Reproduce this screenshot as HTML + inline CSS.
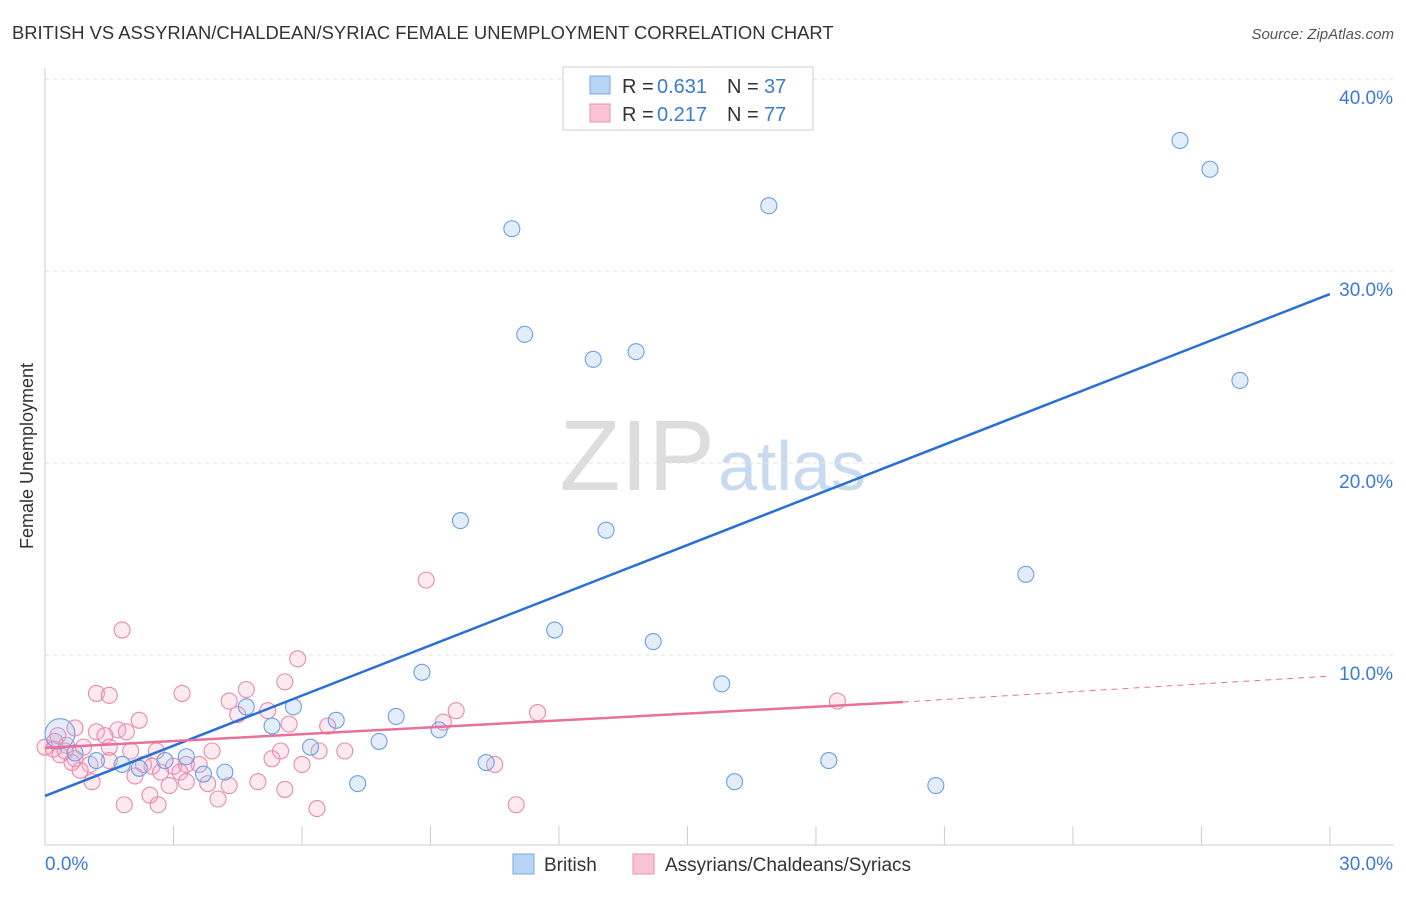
<!DOCTYPE html>
<html><head><meta charset="utf-8"><style>
body{margin:0;background:#fff;font-family:"Liberation Sans",sans-serif}
svg text{font-family:"Liberation Sans",sans-serif}
</style></head><body>
<svg id="c" width="1406" height="892">
<text x="12" y="39" font-size="18.4" fill="#333">BRITISH VS ASSYRIAN/CHALDEAN/SYRIAC FEMALE UNEMPLOYMENT CORRELATION CHART</text>
<text x="1394" y="39" font-size="15" fill="#555" font-style="italic" text-anchor="end">Source: ZipAtlas.com</text>
<text x="33" y="456" font-size="18" fill="#333" text-anchor="middle" transform="rotate(-90 33 456)">Female Unemployment</text>
<text x="715" y="490" font-size="100" fill="#ddd" text-anchor="end" font-family="Liberation Serif">ZIP</text>
<text x="718" y="490" font-size="70" fill="#c8daf0">atlas</text>
<g id="grid"></g><g id="pts"></g><g id="lines"></g>
<g>
<rect x="563" y="67" width="250" height="63" fill="#fff" stroke="#ccc"/>
<rect x="590" y="76" width="20" height="18" fill="#b8d4f5" stroke="#7aa8e0"/>
<rect x="590" y="104" width="20" height="18" fill="#f8c4d4" stroke="#e890b0"/>
<text x="622" y="93" font-size="20" fill="#333">R =</text>
<text x="657" y="93" font-size="20" fill="#3a7bd5">0.631</text>
<text x="727" y="93" font-size="20" fill="#333">N =</text>
<text x="764" y="93" font-size="20" fill="#3a7bd5">37</text>
<text x="622" y="121" font-size="20" fill="#333">R =</text>
<text x="657" y="121" font-size="20" fill="#3a7bd5">0.217</text>
<text x="727" y="121" font-size="20" fill="#333">N =</text>
<text x="764" y="121" font-size="20" fill="#3a7bd5">77</text>
</g>
<g>
<rect x="513" y="854" width="21" height="20" fill="#b8d4f5" stroke="#7aa8e0"/>
<text x="544" y="871" font-size="19" fill="#333">British</text>
<rect x="633" y="854" width="21" height="20" fill="#f8c4d4" stroke="#e890b0"/>
<text x="665" y="871" font-size="19" fill="#333">Assyrians/Chaldeans/Syriacs</text>
</g>
</svg>
<script>
const yTicks=[10,20,30,40];
const yTickLabels=["10.0%","20.0%","30.0%","40.0%"];
const xTickVals=[0,3,6,9,12,15,18,21,24,27,30];
const britishX=[26.5,27.2,16.9,10.9,11.2,12.8,13.8,27.9,9.7,13.1,22.9,11.9,14.2,8.8,15.8,4.7,5.8,6.8,8.2,5.3,9.2,6.2,7.8,3.3,10.3,18.3,1.8,2.2,3.7,4.2,16.1,7.3,20.8,0.35,0.7,1.2,2.8];
const britishY=[36.8,35.3,33.4,32.2,26.7,25.4,25.8,24.3,17.0,16.5,14.2,11.3,10.7,9.1,8.5,7.3,7.3,6.6,6.8,6.3,6.1,5.2,5.5,4.7,4.4,4.5,4.3,4.1,3.8,3.9,3.4,3.3,3.2,5.9,4.9,4.5,4.5];
const assyrX=[8.9,1.8,5.9,1.2,1.5,3.2,4.7,5.6,4.3,18.5,2.2,9.6,11.5,4.5,5.2,6.6,5.7,9.3,0.7,1.2,1.7,1.9,1.4,0.3,0.5,0.9,1.5,2.0,2.6,3.9,0.2,5.5,6.4,7.0,0.35,0.7,2.3,3.0,3.6,5.3,6.0,10.5,1.05,1.5,2.5,3.3,0.63,0.82,2.7,2.1,3.15,3.3,3.8,4.3,4.97,1.1,2.9,2.45,4.04,5.6,1.85,2.64,6.35,11.0,0.0,0.23,0.47];
const assyrY=[13.9,11.3,9.8,8.0,7.9,8.0,8.2,8.6,7.6,7.6,6.6,7.1,7.0,6.9,7.1,6.3,6.4,6.5,6.2,6.0,6.1,6.0,5.8,5.8,5.3,5.2,5.2,5.0,5.0,5.0,5.1,5.0,5.0,5.0,4.8,4.6,4.3,4.2,4.3,4.6,4.3,4.3,4.3,4.5,4.2,4.3,4.4,4.0,3.9,3.7,3.9,3.4,3.3,3.2,3.4,3.4,3.2,2.7,2.5,3.0,2.2,2.2,2.0,2.2,5.2,5.5,5.0];
const blueLine=[[0,2.66],[30,28.8]];
const pinkLine=[[0,5.16],[20.03,7.55]];
const pinkDash=[[20.03,7.55],[30,8.9]];
const X=v=>45+v*42.83, Y=v=>847-v*19.2;
const NS="http://www.w3.org/2000/svg";
function mk(t,a,p){const e=document.createElementNS(NS,t);for(const k in a)e.setAttribute(k,a[k]);p.appendChild(e);return e;}
const g=document.getElementById('grid');
yTicks.forEach((t,i)=>{const l=mk('line',{x1:45,x2:1394,y1:Y(t),y2:Y(t),stroke:'#e2e2e2','stroke-dasharray':'4,4'},g);

const tx=mk('text',{x:1393,y:Y(t)+25,'font-size':19,fill:'#3a7bd5','text-anchor':'end'},g);tx.textContent=yTickLabels[i];
});
mk('line',{x1:45,x2:45,y1:68,y2:845,stroke:'#ccc'},g);
mk('line',{x1:45,x2:1394,y1:845,y2:845,stroke:'#ccc'},g);
xTickVals.forEach(v=>{const t=mk('line',{x1:X(v),x2:X(v),y1:826,y2:845,stroke:'#ccc'},g);
});
const x0=mk('text',{x:45,y:870,'font-size':19,fill:'#3a7bd5'},g);x0.textContent="0.0%";

const x1=mk('text',{x:1393,y:870,'font-size':19,fill:'#3a7bd5','text-anchor':'end'},g);x1.textContent="30.0%";

const p=document.getElementById('pts');
assyrX.forEach((v,i)=>{const c=mk('circle',{cx:X(v),cy:Y(assyrY[i]),r:8,fill:'rgba(244,160,190,0.22)',stroke:'#e889ac','stroke-width':1.1},p);
});
britishX.forEach((v,i)=>{const c=mk('circle',{cx:X(v),cy:Y(britishY[i]),r:i==33?15:8,fill:'rgba(150,190,240,0.28)',stroke:'#6c9fe0','stroke-width':1.1},p);
});
const L=document.getElementById('lines');
const bl=mk('line',{x1:X(blueLine[0][0]),y1:Y(blueLine[0][1]),x2:X(blueLine[1][0]),y2:Y(blueLine[1][1]),stroke:'#2a6fd6','stroke-width':2.5},L);

const pl=mk('line',{x1:X(pinkLine[0][0]),y1:Y(pinkLine[0][1]),x2:X(pinkLine[1][0]),y2:Y(pinkLine[1][1]),stroke:'#e8709a','stroke-width':2.5},L);

const pd=mk('line',{x1:X(pinkDash[0][0]),y1:Y(pinkDash[0][1]),x2:X(pinkDash[1][0]),y2:Y(pinkDash[1][1]),stroke:'#e8709a','stroke-width':1,'stroke-dasharray':'6,5'},L);

</script>
</body></html>
